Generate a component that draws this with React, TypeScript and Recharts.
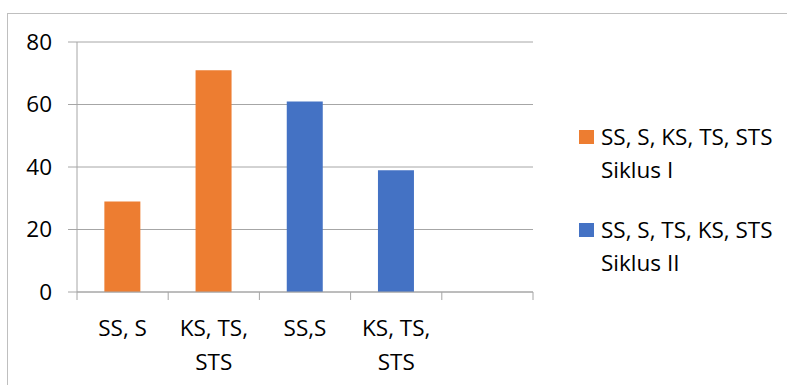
import React from "react";
import { BarChart, Bar, XAxis, YAxis, CartesianGrid } from "recharts";

// category labels along the x axis (last slot is empty)
const categories = ["SS, S", "KS, TS, STS", "SS,S", "KS, TS, STS", ""];
// Siklus I (orange) and Siklus II (blue) values per category
const siklus1 = [29, 71, null, null, null];
const siklus2 = [null, null, 61, 39, null];
const yTicks = [0, 20, 40, 60, 80];

const series = [
  { key: "s1", label: ["SS, S, KS, TS, STS", "Siklus I"], color: "#ED7D31" },
  { key: "s2", label: ["SS, S, TS, KS, STS", "Siklus II"], color: "#4472C4" },
];

const data = categories.map((name, i) => ({ name, s1: siklus1[i], s2: siklus2[i] }));

const FONT = "'Open Sans', sans-serif";
const FONT_SIZE = 22.5;
const GRID = "#a6a6a6";

let ctx: CanvasRenderingContext2D | null = null;
const measure = (s: string) => {
  if (!ctx) ctx = document.createElement("canvas").getContext("2d");
  if (!ctx) return s.length * FONT_SIZE * 0.5;
  ctx.font = `${FONT_SIZE}px ${FONT}`;
  return ctx.measureText(s).width;
};

// greedy word wrap, like Excel does for long category names
const wrap = (text: string, maxWidth: number) => {
  const words = String(text).split(" ");
  const lines: string[] = [];
  let cur = "";
  words.forEach((w) => {
    const next = cur ? cur + " " + w : w;
    if (cur && measure(next) > maxWidth) {
      lines.push(cur);
      cur = w;
    } else cur = next;
  });
  if (cur) lines.push(cur);
  return lines;
};

// Excel style: tick marks at category boundaries, wrapped labels
const CategoryTick = (props: any) => {
  const { x, y, payload, index } = props;
  const half = payload && payload.offset ? payload.offset : 45.6;
  const last = index === categories.length - 1;
  const lines = wrap(payload.value, half * 2 - 6);
  return (
    <g>
      <line x1={x - half} x2={x - half} y1={y} y2={y + 8} stroke={GRID} />
      {last && <line x1={x + half} x2={x + half} y1={y} y2={y + 8} stroke={GRID} />}
      <text x={x} y={y + 44} textAnchor="middle" fontSize={FONT_SIZE} fontFamily={FONT} fill="#000">
        {lines.map((l, i) => (
          <tspan key={i} x={x} dy={i === 0 ? 0 : 34}>
            {l}
          </tspan>
        ))}
      </text>
    </g>
  );
};

const LegendBox = () => (
  <div
    style={{
      position: "absolute",
      left: 579,
      top: 121,
      width: 208,
      fontFamily: FONT,
      fontSize: FONT_SIZE,
      color: "#000",
      lineHeight: "32.5px",
    }}
  >
    {series.map((s, i) => (
      <div key={s.key} style={{ position: "relative", paddingLeft: 22, marginBottom: i === 0 ? 28 : 0 }}>
        <div
          style={{ position: "absolute", left: 0, top: 9, width: 15, height: 14, background: s.color }}
        />
        {s.label.map((l) => (
          <div key={l} style={{ whiteSpace: "nowrap" }}>{l}</div>
        ))}
      </div>
    ))}
  </div>
);

export default function App() {
  return (
    <div style={{ position: "absolute", left: 0, top: 0, width: 787, height: 385, overflow: "hidden", background: "#fff" }}>
      <div
        style={{
          position: "absolute",
          left: 7,
          top: 13,
          width: 782,
          height: 400,
          border: "1px solid #bfbfbf",
          boxSizing: "border-box",
        }}
      />
      <BarChart
        width={787}
        height={385}
        data={data}
        margin={{ top: 42, right: 254, bottom: 33, left: 0 }}
        barCategoryGap="30%"
        style={{ position: "absolute", left: 0, top: 0 }}
      >
        <CartesianGrid vertical={false} stroke={GRID} />
        <XAxis
          dataKey="name"
          height={60}
          axisLine={{ stroke: GRID }}
          tickLine={false}
          tickSize={0}
          tickMargin={0}
          interval={0}
          tick={<CategoryTick />}
        />
        <YAxis
          width={77}
          domain={[0, 80]}
          ticks={yTicks}
          interval={0}
          axisLine={{ stroke: GRID }}
          tickLine={{ stroke: GRID }}
          tickSize={9}
          tickMargin={16}
          tick={{ fontSize: FONT_SIZE, fontFamily: FONT, fill: "#000" }}
        />
        {series.map((s) => (
          <Bar key={s.key} dataKey={s.key} stackId="a" fill={s.color} isAnimationActive={false} />
        ))}
      </BarChart>
      <LegendBox />
    </div>
  );
}
